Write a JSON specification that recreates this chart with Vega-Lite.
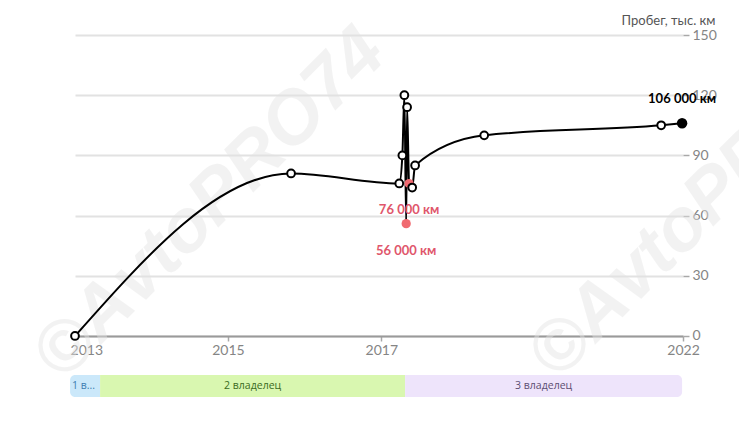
{
  "$schema": "https://vega.github.io/schema/vega-lite/v6.json",
  "width": 608,
  "height": 362,
  "autosize": {"type": "none"},
  "padding": {"left": 75, "top": 35, "right": 56, "bottom": 34},
  "background": "white",
  "config": {"font": "Lato", "view": {"stroke": null}},
  "datasets": {
    "mileage": [
      {"date": "2012-11-06", "km": 0, "kind": "normal"},
      {"date": "2016-02-07", "km": 81, "kind": "normal"},
      {"date": "2017-09-24", "km": 76, "kind": "normal"},
      {"date": "2017-10-11", "km": 90, "kind": "normal"},
      {"date": "2017-10-22", "km": 120, "kind": "normal"},
      {"date": "2017-11-01", "km": 56, "kind": "error", "label": "56\u202f000 км"},
      {"date": "2017-11-06", "km": 114, "kind": "normal"},
      {"date": "2017-11-17", "km": 76, "kind": "error", "label": "76\u202f000 км"},
      {"date": "2017-12-04", "km": 74, "kind": "normal"},
      {"date": "2017-12-20", "km": 85, "kind": "normal"},
      {"date": "2019-01-04", "km": 100, "kind": "normal"},
      {"date": "2021-09-03", "km": 105, "kind": "normal"},
      {"date": "2021-12-27", "km": 106, "kind": "last", "label": "106\u202f000 км"}
    ],
    "owners": [
      {"owner": "1 владелец", "start": "2012-10-10", "end": "2013-03-24"},
      {"owner": "2 владелец", "start": "2013-03-24", "end": "2017-10-26"},
      {"owner": "3 владелец", "start": "2017-10-26", "end": "2021-12-27"}
    ]
  },
  "layer": [
    {
      "data": {"values": [{}]},
      "mark": {"type": "text", "text": "©AvtoPRO74", "angle": -45, "font": "Liberation Sans", "fontSize": 74, "fontWeight": "bold", "fontStyle": "italic", "color": "#e4e4e4", "opacity": 0.45, "align": "center", "baseline": "middle"},
      "encoding": {
        "x": {"datum": {"year": 2014, "month": 11, "date": 19}, "type": "temporal"},
        "y": {"datum": 65.5, "type": "quantitative"}
      }
    },
    {
      "data": {"values": [{}]},
      "mark": {"type": "text", "text": "©AvtoPRO74", "angle": -45, "font": "Liberation Sans", "fontSize": 74, "fontWeight": "bold", "fontStyle": "italic", "color": "#e4e4e4", "opacity": 0.45, "align": "center", "baseline": "middle"},
      "encoding": {
        "x": {"datum": {"year": 2022, "month": 5, "date": 3}, "type": "temporal"},
        "y": {"datum": 66, "type": "quantitative"}
      }
    },
    {
      "data": {"name": "owners"},
      "transform": [{"calculate": "(time(datum.start) + time(datum.end)) / 2", "as": "mid"}],
      "layer": [
        {
          "transform": [{"filter": "datum.owner == '1 владелец'"}],
          "mark": {"type": "rect", "color": "#cbe8fa", "cornerRadiusTopLeft": 5, "cornerRadiusBottomLeft": 5},
          "encoding": {
            "x": {"field": "start", "type": "temporal"},
            "x2": {"field": "end"},
            "y": {"datum": -19.4, "type": "quantitative"},
            "y2": {"datum": -30.4}
          }
        },
        {
          "transform": [{"filter": "datum.owner == '2 владелец'"}],
          "mark": {"type": "rect", "color": "#d9f7b0"},
          "encoding": {
            "x": {"field": "start", "type": "temporal"},
            "x2": {"field": "end"},
            "y": {"datum": -19.4, "type": "quantitative"},
            "y2": {"datum": -30.4}
          }
        },
        {
          "transform": [{"filter": "datum.owner == '3 владелец'"}],
          "mark": {"type": "rect", "color": "#eee4fb", "cornerRadiusTopRight": 5, "cornerRadiusBottomRight": 5},
          "encoding": {
            "x": {"field": "start", "type": "temporal"},
            "x2": {"field": "end"},
            "y": {"datum": -19.4, "type": "quantitative"},
            "y2": {"datum": -30.4}
          }
        },
        {
          "transform": [{"filter": "datum.owner == '1 владелец'"}],
          "mark": {"type": "text", "font": "Open Sans", "fontSize": 10.5, "align": "left", "dx": 2, "baseline": "middle", "limit": 27, "ellipsis": "...", "color": "#3c7db0"},
          "encoding": {
            "x": {"field": "start", "type": "temporal"},
            "y": {"datum": -24.9, "type": "quantitative"},
            "text": {"field": "owner"}
          }
        },
        {
          "transform": [{"filter": "datum.owner != '1 владелец'"}],
          "mark": {"type": "text", "font": "Open Sans", "fontSize": 10.5, "align": "center", "baseline": "middle"},
          "encoding": {
            "x": {"field": "mid", "type": "temporal"},
            "y": {"datum": -24.9, "type": "quantitative"},
            "text": {"field": "owner"},
            "color": {"field": "owner", "type": "nominal", "legend": null, "scale": {"domain": ["2 владелец", "3 владелец"], "range": ["#3b6b1e", "#5d4e72"]}}
          }
        }
      ]
    },
    {
      "data": {"name": "mileage"},
      "layer": [
        {
          "mark": {"type": "line", "interpolate": "monotone", "color": "black", "strokeWidth": 2},
          "encoding": {
            "x": {
              "field": "date", "type": "temporal",
              "scale": {"domain": [{"year": 2012, "month": 11, "date": 6}, {"year": 2022, "month": 1, "date": 1}]},
              "axis": {
                "title": null,
                "values": [{"year": 2013, "month": 1, "date": 7}, {"year": 2015, "month": 2, "date": 25}, {"year": 2017, "month": 6, "date": 17}, {"year": 2022, "month": 1, "date": 1}],
                "format": "%Y",
                "labelFlush": false,
                "labelOverlap": false,
                "offset": -61,
                "grid": false,
                "domainColor": "#9a9a9a",
                "domainWidth": 2,
                "tickColor": "#a8a8a8",
                "tickWidth": 1.5,
                "tickSize": 5,
                "tickOpacity": {"condition": {"test": "year(datum.value) == 2013", "value": 0}, "value": 1},
                "labelColor": "#858585",
                "labelFontSize": 14,
                "labelPadding": 2
              }
            },
            "y": {
              "field": "km", "type": "quantitative",
              "scale": {"domain": [-30.4, 150], "nice": false, "zero": false},
              "axis": {
                "orient": "right",
                "values": [0, 30, 60, 90, 120, 150],
                "grid": true,
                "gridColor": "#e2e2e2",
                "gridWidth": 2,
                "domain": false,
                "tickColor": "#a8a8a8",
                "tickSize": 6,
                "tickWidth": 1.5,
                "labelColor": "#858585",
                "labelFontSize": 14,
                "labelPadding": 3,
                "title": "Пробег, тыс. км",
                "titleAngle": 0,
                "titleAlign": "right",
                "titleBaseline": "middle",
                "titleX": 32,
                "titleY": -15,
                "titleFontSize": 13,
                "titleFontWeight": "normal",
                "titleColor": "#555555"
              }
            }
          }
        },
        {
          "transform": [{"filter": "datum.kind == 'error'"}],
          "mark": {"type": "circle", "color": "#f06a70", "size": 85, "opacity": 1},
          "encoding": {
            "x": {"field": "date", "type": "temporal"},
            "y": {"field": "km", "type": "quantitative"}
          }
        },
        {
          "transform": [{"filter": "datum.kind == 'normal'"}],
          "mark": {"type": "point", "shape": "circle", "filled": true, "fill": "white", "stroke": "black", "strokeWidth": 2, "size": 60, "opacity": 1},
          "encoding": {
            "x": {"field": "date", "type": "temporal"},
            "y": {"field": "km", "type": "quantitative"}
          }
        },
        {
          "transform": [{"filter": "datum.kind == 'last'"}],
          "mark": {"type": "circle", "color": "black", "size": 110, "opacity": 1},
          "encoding": {
            "x": {"field": "date", "type": "temporal"},
            "y": {"field": "km", "type": "quantitative"}
          }
        },
        {
          "transform": [{"filter": "datum.kind == 'error'"}],
          "mark": {"type": "text", "dy": 27, "fontSize": 13, "fontWeight": "bold", "color": "#e0566b", "align": "center", "baseline": "middle"},
          "encoding": {
            "x": {"field": "date", "type": "temporal"},
            "y": {"field": "km", "type": "quantitative"},
            "text": {"field": "label"}
          }
        },
        {
          "transform": [{"filter": "datum.kind == 'last'"}],
          "mark": {"type": "text", "dy": -24, "fontSize": 13, "fontWeight": "bold", "color": "black", "align": "center", "baseline": "middle"},
          "encoding": {
            "x": {"field": "date", "type": "temporal"},
            "y": {"field": "km", "type": "quantitative"},
            "text": {"field": "label"}
          }
        }
      ]
    }
  ]
}
